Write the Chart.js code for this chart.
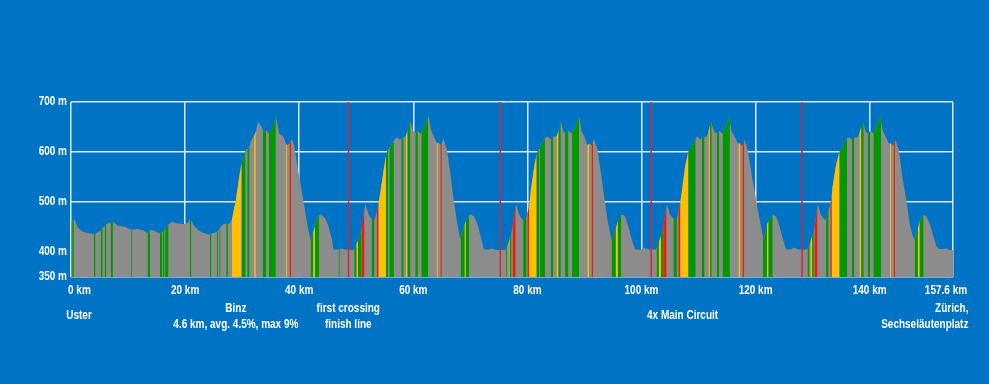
<!DOCTYPE html>
<html>
<head>
<meta charset="utf-8">
<script src="https://cdn.jsdelivr.net/npm/chart.js@4.4.1/dist/chart.umd.min.js"></script>
<style>
  html, body { margin: 0; padding: 0; background: #0073c4; }
  #wrap { width: 989px; height: 384px; }
</style>
</head>
<body>
<div id="wrap"><canvas id="profile" width="989" height="384"></canvas></div>
<script>
// distance along the route (km, as drawn on the axis)
const distKm = [
  0.0, 0.2, 0.5, 0.7, 1.2, 2.0, 2.9, 4.0, 4.3, 5.2,
  5.55, 5.9, 6.2, 6.95, 7.35, 8.2, 9.4, 10.2, 10.55, 10.7,
  11.8, 12.7, 13.4, 13.85, 14.5, 15.5, 15.6, 15.95, 16.1, 16.4,
  16.5, 17.1, 17.7, 18.7, 19.8, 20.5, 20.8, 21.1, 21.6, 22.3,
  23.0, 24.2, 24.35, 24.6, 25.6, 25.8, 26.0, 26.2, 26.6, 27.2,
  27.5, 27.9, 28.2, 28.9, 29.5, 29.85, 29.95, 30.6, 30.9, 31.3,
  31.5, 32.0, 32.1, 32.4, 32.8, 33.3, 33.6, 33.9, 34.2, 34.7,
  35.3, 35.9, 36.5, 37.2, 37.7, 37.9, 38.3, 38.6, 38.7, 39.1,
  39.7, 40.3, 40.9, 41.5, 42.0, 42.45, 42.75, 43.2, 43.5, 43.8,
  44.6, 45.15, 45.75, 46.0, 46.9, 47.1, 47.2, 48.1, 49.5, 49.65,
  50.05, 50.3, 50.5, 50.95, 51.45, 51.6, 52.2, 52.7, 53.2, 53.6,
  53.9, 54.2, 54.8, 55.2, 55.4, 55.6, 55.8, 56.6, 57.1, 57.6,
  57.9, 58.3, 58.7, 58.9, 59.0, 59.5, 59.9, 60.35, 60.8, 61.3,
  61.4, 61.9, 62.6, 62.7, 63.1, 63.6, 64.1, 64.3, 64.5, 64.75,
  65.0, 65.3, 65.9, 66.5, 67.0, 67.6, 68.2, 68.3, 69.0, 69.2,
  69.8, 70.1, 70.7, 71.3, 71.9, 72.4, 73.3, 73.8, 74.5, 76.1,
  76.25, 76.4, 76.7, 76.9, 77.2, 77.4, 77.95, 78.0, 78.6, 79.15,
  79.25, 79.85, 80.0, 80.3, 80.6, 81.2, 81.6, 81.8, 82.05, 82.2,
  82.9, 83.1, 83.5, 84.0, 84.1, 84.5, 85.1, 85.4, 85.45, 85.85,
  86.3, 86.6, 87.2, 87.8, 88.5, 89.05, 89.5, 89.95, 90.5, 90.8,
  90.95, 91.25, 91.5, 91.7, 92.3, 92.9, 93.45, 94.05, 94.75, 95.5,
  95.85, 96.45, 96.55, 97.15, 97.7, 98.3, 98.9, 99.8, 100.3, 101.2,
  102.5, 102.65, 103.05, 103.4, 103.8, 104.4, 104.45, 105.0, 105.6, 106.2,
  106.45, 106.8, 107.1, 107.65, 108.2, 108.8, 109.4, 109.5, 109.85, 110.25,
  110.55, 111.05, 111.45, 111.75, 112.0, 112.2, 112.3, 112.75, 113.2, 113.6,
  114.2, 114.85, 115.35, 115.5, 115.8, 116.25, 116.9, 117.0, 117.3, 117.55,
  117.7, 118.0, 118.05, 118.65, 119.35, 119.9, 120.4, 120.95, 121.3, 121.45,
  122.0, 122.25, 123.0, 123.6, 124.2, 124.75, 125.35, 126.2, 126.7, 127.4,
  129.0, 129.1, 129.45, 129.6, 129.9, 130.2, 130.3, 130.85, 130.9, 131.45,
  132.05, 132.35, 132.8, 133.1, 133.35, 133.5, 134.1, 134.7, 135.3, 135.85,
  136.05, 136.45, 136.85, 136.9, 137.3, 137.9, 138.2, 138.5, 138.8, 138.95,
  139.25, 139.65, 140.1, 140.65, 141.3, 141.85, 142.0, 142.35, 142.75, 143.35,
  143.55, 143.75, 144.05, 144.2, 144.45, 144.5, 145.1, 145.8, 146.4, 147.0,
  147.5, 147.9, 148.45, 148.75, 149.45, 149.9, 150.5, 151.1, 151.7, 152.15,
  152.85, 153.45, 154.0, 154.6
];

// elevation in metres at each distance
const elevationM = [
  460, 462, 465, 463, 449, 441, 438, 436, 437, 443,
  448, 452, 457, 458, 460, 453, 451, 446, 445, 445,
  446, 443, 438, 444, 443, 437, 437, 439, 441, 444,
  446, 455, 461, 457, 456, 459, 465, 462, 452, 444,
  439, 435, 436, 437, 440, 443, 447, 450, 455, 457,
  455, 459, 465, 504, 551, 576, 581, 604, 606, 612,
  621, 631, 632, 641, 661, 652, 645, 639, 643, 637,
  647, 671, 637, 631, 615, 614, 617, 624, 626, 614,
  571, 531, 491, 451, 424, 440, 451, 471, 473, 475,
  467, 451, 424, 405, 405, 406, 407, 405, 404, 405,
  418, 422, 428, 447, 488, 496, 474, 467, 464, 480,
  498, 517, 564, 592, 601, 605, 608, 624, 629, 625,
  627, 629, 632, 640, 645, 661, 644, 638, 642, 637,
  638, 651, 670, 672, 644, 631, 618, 618, 619, 614,
  618, 627, 604, 557, 511, 464, 427, 430, 455, 462,
  474, 475, 471, 454, 427, 405, 405, 407, 404, 404,
  406, 412, 420, 428, 438, 450, 494, 496, 474, 465,
  464, 470, 478, 490, 524, 571, 595, 601, 606, 611,
  626, 628, 631, 626, 627, 631, 631, 641, 643, 661,
  641, 638, 642, 637, 654, 672, 641, 632, 614, 616,
  617, 613, 620, 625, 604, 557, 511, 464, 424, 447,
  462, 474, 475, 471, 451, 424, 405, 405, 409, 405,
  405, 408, 420, 432, 450, 494, 496, 474, 467, 467,
  480, 500, 524, 571, 601, 611, 626, 628, 631, 625,
  628, 630, 631, 642, 653, 661, 655, 641, 637, 642,
  637, 654, 672, 660, 641, 632, 617, 617, 617, 612,
  615, 622, 625, 604, 551, 517, 484, 451, 430, 424,
  455, 462, 475, 471, 451, 427, 405, 405, 409, 405,
  405, 406, 414, 420, 432, 440, 448, 493, 496, 474,
  465, 466, 485, 494, 515, 531, 574, 601, 611, 626,
  628, 629, 625, 626, 629, 629, 638, 650, 661, 655,
  641, 637, 642, 637, 654, 672, 660, 641, 632, 617,
  617, 617, 612, 616, 622, 625, 604, 545, 505, 457,
  434, 424, 447, 462, 474, 472, 457, 434, 411, 406,
  406, 407, 404, 404
];

// gradient class of the stretch that starts at each point: 0 flat, 1 moderate, 2 steep, 3 very steep
const gradeClass = [
  0, 1, 0, 0, 0, 0, 0, 1, 0, 1,
  0, 1, 0, 1, 0, 0, 0, 0, 1, 0,
  0, 0, 1, 0, 0, 0, 1, 0, 1, 0,
  1, 0, 0, 0, 0, 0, 1, 0, 0, 0,
  0, 0, 1, 0, 1, 0, 1, 0, 0, 1,
  0, 0, 2, 2, 2, 0, 1, 0, 1, 0,
  0, 0, 2, 0, 0, 0, 1, 1, 0, 1,
  1, 0, 0, 0, 2, 0, 3, 0, 0, 0,
  0, 0, 0, 0, 1, 2, 1, 1, 0, 0,
  0, 0, 0, 0, 1, 0, 0, 0, 0, 1,
  2, 1, 1, 3, 0, 0, 0, 1, 0, 3,
  2, 2, 2, 1, 1, 0, 1, 0, 0, 0,
  1, 0, 2, 0, 1, 0, 0, 1, 0, 0,
  1, 1, 0, 0, 0, 0, 2, 0, 0, 3,
  0, 0, 0, 0, 0, 0, 0, 1, 2, 1,
  0, 0, 0, 0, 0, 0, 0, 0, 0, 0,
  1, 0, 2, 1, 0, 3, 0, 0, 0, 0,
  1, 0, 3, 2, 2, 2, 1, 1, 0, 1,
  1, 0, 0, 0, 1, 0, 2, 0, 1, 0,
  0, 1, 0, 1, 1, 0, 0, 0, 2, 0,
  0, 3, 0, 0, 0, 0, 0, 0, 1, 2,
  1, 0, 0, 0, 0, 0, 0, 0, 0, 0,
  0, 1, 2, 1, 3, 0, 0, 0, 1, 0,
  3, 2, 2, 2, 1, 1, 1, 0, 0, 0,
  1, 0, 0, 2, 1, 1, 0, 0, 1, 0,
  1, 1, 1, 0, 0, 0, 0, 2, 0, 0,
  3, 0, 0, 0, 0, 0, 0, 0, 1, 1,
  2, 1, 0, 0, 0, 0, 0, 0, 0, 0,
  0, 1, 0, 2, 1, 0, 3, 0, 0, 0,
  0, 1, 0, 3, 2, 2, 2, 1, 1, 1,
  0, 0, 0, 1, 0, 0, 2, 1, 1, 0,
  0, 1, 0, 1, 1, 1, 0, 0, 0, 0,
  2, 0, 0, 3, 0, 0, 0, 0, 0, 0,
  0, 1, 2, 1, 0, 0, 0, 0, 0, 0,
  0, 0, 0, 0
];

// finish line crossings (red markers)
const finishCrossKm = [48.65, 75.25, 101.7, 128.15];

const xTickKm = [0, 20, 40, 60, 80, 100, 120, 140, 154.6];
const xTickLabels = ['0 km', '20 km', '40 km', '60 km', '80 km', '100 km', '120 km', '140 km', '157.6 km'];
const yTickM = [350, 400, 500, 600, 700];
const yTickLabels = ['350 m', '400 m', '500 m', '600 m', '700 m'];

// captions under the axis
const noteKm = [1.4, 28.9, 48.6, 107.2, 157.3];
const noteLines = [
  ['Uster'],
  ['Binz', '4.6 km, avg. 4.5%, max 9%'],
  ['first crossing', 'finish line'],
  ['4x Main Circuit'],
  ['Zürich,', 'Sechseläutenplatz']
];
const noteAlign = ['center', 'center', 'center', 'center', 'right'];

const BG = '#0073c4';
const GRAY = '#8c8c8c';
const GRADE_COLORS = ['rgba(0,0,0,0)', '#009a00', '#ffc000', '#ff1500'];
const GRID = 'rgba(255,255,255,0.85)';
const LABEL_FONT = 'bold 12.5px "Liberation Sans", Arial, sans-serif';
const SQUEEZE = 0.8; // the original lettering is a narrow face

const points = distKm.map((km, i) => ({ x: km, y: elevationM[i] }));

// draws narrow text by squeezing a regular bold face horizontally
function narrowText(ctx, text, x, y, align) {
  ctx.save();
  ctx.translate(x, y);
  ctx.scale(SQUEEZE, 1);
  ctx.textAlign = align;
  ctx.fillText(text, 0, 0);
  ctx.restore();
}

const backgroundPlugin = {
  id: 'bg',
  beforeDraw(chart) {
    const { ctx, width, height } = chart;
    ctx.save();
    ctx.fillStyle = BG;
    ctx.fillRect(0, 0, width, height);
    ctx.restore();
  }
};

const markersPlugin = {
  id: 'markers',
  afterDatasetsDraw(chart) {
    const { ctx, chartArea, scales } = chart;
    ctx.save();
    ctx.strokeStyle = '#d0283a';
    ctx.lineWidth = 1.5;
    finishCrossKm.forEach(km => {
      const x = scales.x.getPixelForValue(km);
      ctx.beginPath();
      ctx.moveTo(x, chartArea.top);
      ctx.lineTo(x, chartArea.bottom);
      ctx.stroke();
    });
    ctx.restore();
  },
  afterDraw(chart) {
    const { ctx, chartArea, scales } = chart;
    ctx.save();
    ctx.fillStyle = '#ffffff';
    ctx.font = LABEL_FONT;
    ctx.textBaseline = 'middle';

    // axis labels at the scales' own tick positions
    const xs = scales.x, ys = scales.y;
    xs.ticks.forEach((t, i) => {
      const x = xs.getPixelForValue(t.value);
      const last = i === xs.ticks.length - 1;
      if (i === 0) narrowText(ctx, xTickLabels[i], x - 3, chartArea.bottom + 14, 'left');
      else narrowText(ctx, xTickLabels[i], last ? x - 7 : x, chartArea.bottom + 14, 'center');
    });
    ys.ticks.forEach((t, i) => {
      narrowText(ctx, yTickLabels[i], chartArea.left - 4, ys.getPixelForValue(t.value), 'right');
    });

    // captions
    noteKm.forEach((km, i) => {
      const x = xs.getPixelForValue(km);
      const lines = noteLines[i];
      const yy = lines.length === 1 ? [316] : [309, 325];
      lines.forEach((txt, j) => narrowText(ctx, txt, x, yy[j], noteAlign[i]));
    });
    ctx.restore();
  }
};

new Chart(document.getElementById('profile'), {
  type: 'line',
  data: {
    datasets: [
      {
        data: points,
        fill: 'start',
        backgroundColor: GRAY,
        borderColor: 'rgba(0,0,0,0)',
        borderWidth: 0,
        pointRadius: 0,
        tension: 0,
        order: 2
      },
      {
        data: points,
        fill: 'start',
        backgroundColor: 'rgba(0,0,0,0)',
        borderColor: 'rgba(0,0,0,0)',
        borderWidth: 0,
        pointRadius: 0,
        tension: 0,
        order: 1,
        segment: {
          backgroundColor: c => GRADE_COLORS[gradeClass[c.p0DataIndex]]
        }
      }
    ]
  },
  options: {
    responsive: false,
    animation: false,
    layout: { padding: { top: 102, right: 36, left: 0, bottom: 0 } },
    plugins: {
      legend: { display: false },
      tooltip: { enabled: false }
    },
    scales: {
      x: {
        type: 'linear',
        min: 0,
        max: 154.6,
        z: 1,
        afterBuildTicks: s => { s.ticks = xTickKm.map(v => ({ value: v })); },
        afterFit: s => { s.height = 107; },
        grid: { color: GRID, lineWidth: 1.5, drawTicks: false },
        border: { display: false },
        ticks: { display: false }
      },
      y: {
        min: 350,
        max: 700,
        z: 1,
        afterBuildTicks: s => { s.ticks = yTickM.map(v => ({ value: v })); },
        afterFit: s => { s.width = 71; },
        grid: { color: GRID, lineWidth: 1.5, drawTicks: false },
        border: { display: false },
        ticks: { display: false }
      }
    }
  },
  plugins: [backgroundPlugin, markersPlugin]
});
</script>
</body>
</html>
